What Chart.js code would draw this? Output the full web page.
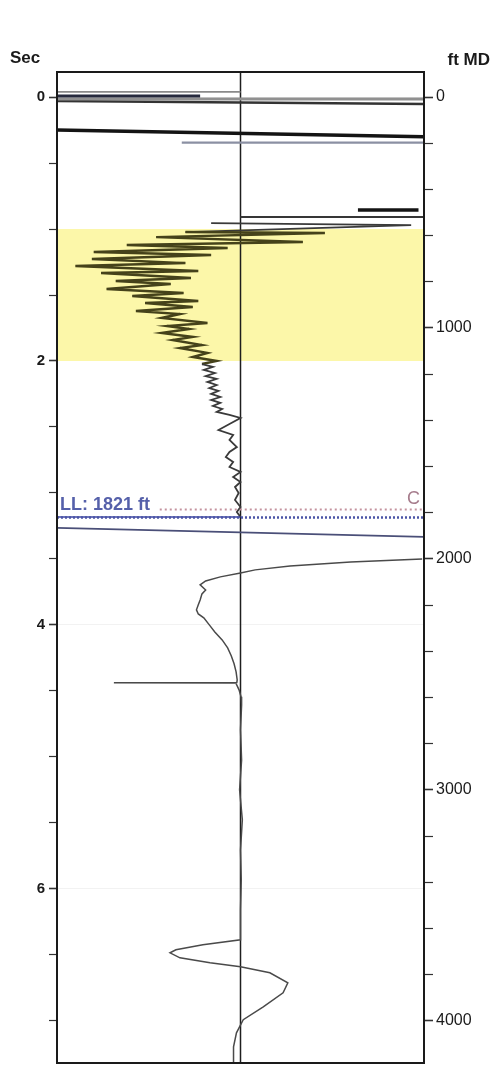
<!DOCTYPE html>
<html lang="en">
<head>
<meta charset="utf-8">
<title>Trace vs time and depth</title>
<script src="https://cdn.jsdelivr.net/npm/chart.js@4.4.1/dist/chart.umd.min.js"></script>
<style>
    html, body { margin: 0; padding: 0; background: #ffffff; }
    .chart-box { position: relative; width: 491px; height: 1065px; }
</style>
</head>
<body>
<div class="chart-box"><canvas id="traceChart"></canvas></div>
<script>
// vertical axis is time in seconds, mirrored on the right in ft MD (4000 ft = 7 s)
const secRange = [-0.19, 7.32];
const ftPerSec = 4000 / 7;
const zoneSec = [1.0, 2.0];
const llFt = 1821;
const casingFt = 1786;
const casingAmpStart = -0.44;

// trace, upper part (sec / normalised amplitude)
const traceSec = [0.955, 0.970, 1.023, 1.030, 1.061, 1.098, 1.121, 1.144, 1.174, 1.197,
    1.227, 1.258, 1.280, 1.318, 1.333, 1.371, 1.394, 1.417, 1.455, 1.485,
    1.508, 1.545, 1.561, 1.591, 1.621, 1.644, 1.674, 1.712, 1.735, 1.758,
    1.788, 1.818, 1.841, 1.879, 1.902, 1.939, 1.970, 2.000, 2.023, 2.045,
    2.068, 2.091, 2.114, 2.136, 2.159, 2.182, 2.205, 2.227, 2.250, 2.273,
    2.295, 2.318, 2.341, 2.364, 2.386, 2.409, 2.432, 2.477, 2.523, 2.561,
    2.598, 2.652, 2.689, 2.727, 2.765, 2.803, 2.841, 2.879, 2.917, 2.955,
    3.000, 3.053, 3.106, 3.144, 3.182];
const traceAmp = [-0.16, 0.93, -0.30, 0.46, -0.46, 0.34, -0.62, -0.07, -0.80, -0.16,
    -0.81, -0.30, -0.90, -0.23, -0.76, -0.27, -0.68, -0.38, -0.73, -0.31,
    -0.59, -0.23, -0.52, -0.26, -0.57, -0.33, -0.43, -0.18, -0.40, -0.28,
    -0.43, -0.26, -0.37, -0.21, -0.33, -0.18, -0.26, -0.13, -0.21, -0.15,
    -0.20, -0.14, -0.19, -0.13, -0.18, -0.13, -0.17, -0.12, -0.16, -0.11,
    -0.16, -0.11, -0.15, -0.10, -0.13, -0.06, 0.00, -0.06, -0.12, -0.04,
    -0.06, -0.02, -0.06, -0.08, -0.04, -0.06, 0.00, -0.04, 0.00, -0.03,
    -0.01, -0.03, 0.00, -0.02, 0.00];

// trace, lower part
const trace2Sec = [3.500, 3.523, 3.553, 3.583, 3.606, 3.636, 3.667, 3.697, 3.735, 3.765,
    3.811, 3.848, 3.886, 3.917, 3.947, 4.000, 4.053, 4.114, 4.174, 4.235,
    4.295, 4.356, 4.417, 4.436, 4.439, 4.442, 4.492, 4.545, 4.606, 4.795,
    5.023, 5.250, 5.477, 5.705, 5.932, 6.159, 6.386, 6.424, 6.462, 6.485,
    6.523, 6.561, 6.591, 6.636, 6.712, 6.788, 6.894, 6.992, 7.091, 7.197, 7.318];
const trace2Amp = [0.99, 0.60, 0.27, 0.08, 0.00, -0.11, -0.19, -0.22, -0.19, -0.21,
    -0.22, -0.23, -0.24, -0.23, -0.20, -0.17, -0.14, -0.10, -0.07, -0.05,
    -0.035, -0.024, -0.018, -0.02, -0.69, -0.025, -0.008, 0.003, 0.006, 0.00,
    0.006, -0.005, 0.01, 0.00, 0.004, 0.00, 0.00, -0.205, -0.352, -0.384,
    -0.33, -0.166, 0.00, 0.16, 0.258, 0.232, 0.124, 0.015, -0.022, -0.038, -0.038];

// straight events: time and amplitude at both ends
const eventSecA = [-0.040, -0.008, 0.015, 0.030, 0.250, 0.345, 0.856, 0.909, 3.265];
const eventSecB = [-0.040, -0.008, 0.015, 0.053, 0.300, 0.345, 0.856, 0.909, 3.333];
const eventAmpA = [-1, -1, -1, -1, -1, -0.32, 0.64, 0, -1];
const eventAmpB = [0, -0.22, 1, 1, 1, 1.03, 0.97, 1, 1];
const eventColors = ['#8a8a8a', '#262a3e', '#909090', '#333333', '#141414', '#8b90a3', '#141414', '#363636', '#4a4f78'];
const eventWidths = [1.8, 3, 3, 2.5, 3.5, 2.2, 3.5, 2.2, 1.6];

document.addEventListener('DOMContentLoaded', function () {
    const fontFamily = '"Liberation Sans", Arial, sans-serif';
    const pts = (secs, amps) => secs.map((t, i) => ({ x: amps[i], y: t }));
    const onStep = (v, step) => Math.abs(v / step - Math.round(v / step)) < 1e-6;
    const inZone = t => t >= zoneSec[0] && t <= zoneSec[1];

    const line = (data, color, width, extra) => Object.assign({
        data: data,
        showLine: true,
        borderColor: color,
        borderWidth: width,
        pointRadius: 0,
        fill: false,
        tension: 0
    }, extra || {});

    const datasets = [];

    // markers on the depth axis
    datasets.push(line([{ x: -1, y: llFt }, { x: 1, y: llFt }], '#4c55a6', 2.5,
        { yAxisID: 'y2', borderDash: [2, 2] }));
    datasets.push(line([{ x: -1, y: llFt - 3 }, { x: 0, y: llFt - 3 }], '#3a44a0', 1.5,
        { yAxisID: 'y2' }));
    datasets.push(line([{ x: casingAmpStart, y: casingFt }, { x: 1, y: casingFt }], '#c4939f', 2,
        { yAxisID: 'y2', borderDash: [2, 3] }));

    // traces
    datasets.push(line(pts(traceSec, traceAmp), '#3a3a3a', 2.2, {
        segment: {
            borderColor: c => (inZone(c.p0.parsed.y) ? '#45421a' : '#3a3a3a'),
            borderWidth: c => (inZone(c.p0.parsed.y) ? 2.4 : 1.8)
        }
    }));
    datasets.push(line(pts(trace2Sec, trace2Amp), '#4a4a4a', 1.5));

    // straight events
    eventSecA.forEach((t, i) => {
        datasets.push(line([{ x: eventAmpA[i], y: t }, { x: eventAmpB[i], y: eventSecB[i] }],
            eventColors[i], eventWidths[i]));
    });

    // zero-amplitude line
    datasets.push(line(secRange.map(t => ({ x: 0, y: t })), '#1e1e1e', 1.5));

    const zonePlugin = {
        id: 'zone',
        beforeDatasetsDraw(chart) {
            const { ctx, chartArea: a, scales } = chart;
            const top = scales.y.getPixelForValue(zoneSec[0]);
            const bottom = scales.y.getPixelForValue(zoneSec[1]);
            ctx.save();
            ctx.fillStyle = '#fcf7a9';
            ctx.fillRect(a.left, top, a.right - a.left, bottom - top);
            ctx.restore();
        }
    };

    const framePlugin = {
        id: 'frame',
        afterDatasetsDraw(chart) {
            const { ctx, chartArea: a, scales } = chart;
            ctx.save();
            ctx.strokeStyle = '#1a1a1a';
            ctx.lineWidth = 2;
            ctx.strokeRect(a.left, a.top, a.right - a.left, a.bottom - a.top);

            ctx.textBaseline = 'alphabetic';
            ctx.fillStyle = '#1a1a1a';
            ctx.font = 'bold 17px ' + fontFamily;
            ctx.textAlign = 'center';
            ctx.fillText('Sec', 25, a.top - 9);
            ctx.textAlign = 'right';
            ctx.fillText('ft MD', 490, a.top - 7);

            const llY = scales.y2.getPixelForValue(llFt);
            ctx.fillStyle = '#5560aa';
            ctx.font = 'bold 18px ' + fontFamily;
            ctx.textAlign = 'left';
            ctx.fillText('LL: ' + llFt + ' ft', a.left + 3, llY - 8);

            const cY = scales.y2.getPixelForValue(casingFt);
            ctx.fillStyle = '#a67c8c';
            ctx.font = '18px ' + fontFamily;
            ctx.textAlign = 'right';
            ctx.fillText('C', a.right - 4, cY - 6);
            ctx.restore();
        }
    };

    const trimTicks = step => scale => {
        scale.ticks = scale.ticks.filter(tk => onStep(tk.value, step));
    };

    new Chart(document.getElementById('traceChart'), {
        type: 'scatter',
        data: { datasets: datasets },
        options: {
            responsive: true,
            maintainAspectRatio: false,
            animation: false,
            layout: { padding: { top: 72, bottom: 2, left: 0, right: 0 } },
            plugins: {
                legend: { display: false },
                tooltip: { enabled: false }
            },
            scales: {
                x: {
                    type: 'linear',
                    display: false,
                    min: -1,
                    max: 1
                },
                y: {
                    type: 'linear',
                    position: 'left',
                    reverse: true,
                    min: secRange[0],
                    max: secRange[1],
                    afterBuildTicks: trimTicks(0.5),
                    afterFit: s => { s.width = 57; s.paddingTop = 0; s.paddingBottom = 0; },
                    border: { display: false },
                    grid: {
                        drawOnChartArea: true,
                        color: c => (c.tick && onStep(c.tick.value, 2) ? 'rgba(0,0,0,0.05)' : 'rgba(0,0,0,0)'),
                        tickColor: '#333333',
                        tickLength: 8,
                        tickWidth: c => (c.tick && onStep(c.tick.value, 2) ? 1.6 : 1.2)
                    },
                    ticks: {
                        stepSize: 0.5,
                        autoSkip: false,
                        padding: 4,
                        color: '#1a1a1a',
                        font: { family: fontFamily, size: 15, weight: 'bold' },
                        callback: v => (onStep(v, 2) ? String(v) : '')
                    }
                },
                y2: {
                    type: 'linear',
                    position: 'right',
                    reverse: true,
                    min: secRange[0] * ftPerSec,
                    max: secRange[1] * ftPerSec,
                    afterBuildTicks: trimTicks(200),
                    afterFit: s => { s.width = 67; s.paddingTop = 0; s.paddingBottom = 0; },
                    border: { display: false },
                    grid: {
                        drawOnChartArea: false,
                        tickColor: '#333333',
                        tickLength: 9,
                        tickWidth: c => (c.tick && onStep(c.tick.value, 1000) ? 1.6 : 1.2)
                    },
                    ticks: {
                        stepSize: 200,
                        autoSkip: false,
                        padding: 3,
                        color: '#1a1a1a',
                        font: { family: fontFamily, size: 16 },
                        callback: v => (onStep(v, 1000) ? String(v) : '')
                    }
                }
            }
        },
        plugins: [zonePlugin, framePlugin]
    });
});
</script>
</body>
</html>
